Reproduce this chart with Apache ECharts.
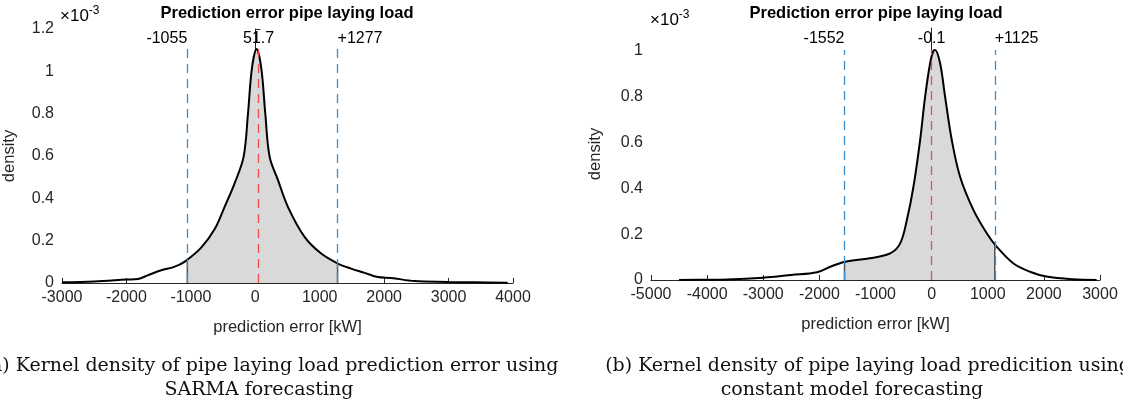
<!DOCTYPE html>
<html>
<head>
<meta charset="utf-8">
<script src="https://cdn.jsdelivr.net/npm/echarts@6/dist/echarts.min.js"></script>
<style>html,body{margin:0;padding:0;background:#fff}#c{width:1123px;height:409px}</style>
</head>
<body>
<div id="c"></div>
<script>
// ---- data (density in units of 1e-3) ----
const errA = [-3000,-2500,-2000,-1820,-1670,-1460,-1260,-1100,-840,-630,-476,-321,-181,-113,-52,20,93,155,222,351,506,765,1023,1282,1488,1700,1902,2108,2470,2987,3400,3917];
const densA = [0.003,0.007,0.016,0.019,0.036,0.060,0.076,0.100,0.167,0.255,0.360,0.471,0.597,0.802,1.015,1.105,1.015,0.802,0.597,0.487,0.360,0.218,0.139,0.092,0.068,0.048,0.028,0.024,0.009,0.005,0.003,0.001];
const errB = [-4500,-4000,-3645,-3000,-2500,-2040,-1806,-1540,-1100,-740,-560,-441,-324,-205,-116,-27,30,62,151,240,359,507,744,982,1157,1453,1750,2046,2520,2940];
const densB = [0.000,0.001,0.002,0.010,0.022,0.034,0.058,0.080,0.095,0.116,0.160,0.262,0.407,0.611,0.800,0.946,1.000,1.004,0.946,0.800,0.611,0.451,0.306,0.204,0.146,0.073,0.036,0.015,0.003,0.000];
const markA = [-1055, 51.7, 1277];
const markLabelsA = ['-1055', '51.7', '+1277'];
const markB = [-1552, -0.1, 1125];
const markLabelsB = ['-1552', '-0.1', '+1125'];
const xTicksA = [-3000,-2000,-1000,0,1000,2000,3000,4000];
const xTicksB = [-5000,-4000,-3000,-2000,-1000,0,1000,2000,3000];
const yTicksA = [0,0.2,0.4,0.6,0.8,1,1.2];
const yTicksB = [0,0.2,0.4,0.6,0.8,1];
const titleText = 'Prediction error pipe laying load';
const xName = 'prediction error [kW]';
const yName = 'density';
const capA1 = '(a) Kernel density of pipe laying load prediction error using';
const capA2 = 'SARMA forecasting';
const capB1 = '(b) Kernel density of pipe laying load predicition using';
const capB2 = 'constant model forecasting';

function interp(xs, ys, x) {
  for (let i = 0; i < xs.length - 1; i++) {
    if (x >= xs[i] && x <= xs[i+1]) {
      const t = (x - xs[i]) / (xs[i+1] - xs[i]);
      return ys[i] + t * (ys[i+1] - ys[i]);
    }
  }
  return 0;
}
function fillData(xs, ys, lo, hi) {
  const out = [[lo, interp(xs, ys, lo)]];
  xs.forEach((x, i) => { if (x > lo && x < hi) out.push([x, ys[i]]); });
  out.push([hi, interp(xs, ys, hi)]);
  return out;
}

const AX = '#262626';
const FONT = 'Liberation Sans';
const BLUE = '#3b8fd1';
const RED = '#ee4b4b';
const SMOOTH = 0.35;
const ALIGNS = ['right', 'center', 'left'];

function xAxis(gi, ticks) {
  return {
    type: 'value', gridIndex: gi, min: ticks[0], max: ticks[ticks.length-1], interval: 1000,
    name: xName, nameLocation: 'middle', nameGap: 36,
    nameTextStyle: { fontFamily: FONT, fontSize: 16.5, color: AX },
    axisLine: { show: true, onZero: false, lineStyle: { color: AX, width: 1 } },
    axisTick: { show: true, inside: true, length: 5, lineStyle: { color: AX }, customValues: ticks },
    axisLabel: { fontFamily: FONT, fontSize: 16, color: AX, margin: 7, customValues: ticks,
      formatter: v => String(v) },
    splitLine: { show: false }
  };
}
function yAxis(gi, ticks, max, gap) {
  return {
    type: 'value', gridIndex: gi, min: 0, max: max,
    name: yName, nameLocation: 'middle', nameGap: gap,
    nameTextStyle: { fontFamily: FONT, fontSize: 16.5, color: AX },
    axisLine: { show: true, lineStyle: { color: AX, width: 1 } },
    axisTick: { show: true, inside: true, length: 5, lineStyle: { color: AX }, customValues: ticks },
    axisLabel: { fontFamily: FONT, fontSize: 16, color: AX, margin: 8, customValues: ticks,
      formatter: v => String(+v.toFixed(1)) },
    splitLine: { show: false }
  };
}
function seriesFor(gi, xs, ys, lo, hi, marks, labels) {
  const top = Math.max(...ys);
  const edge = (x) => ({
    type: 'line', xAxisIndex: gi, yAxisIndex: gi, symbol: 'none', silent: true, z: 3,
    lineStyle: { color: '#555', width: 1.5 },
    data: [[x, 0], [x, interp(xs, ys, x)]]
  });
  return [
    {
      type: 'line', xAxisIndex: gi, yAxisIndex: gi, symbol: 'none', silent: true, z: 2,
      smooth: SMOOTH,
      lineStyle: { width: 0 }, areaStyle: { color: '#d9d9d9', opacity: 1 },
      data: fillData(xs, ys, lo, hi)
    },
    edge(lo), edge(hi),
    {
      type: 'line', xAxisIndex: gi, yAxisIndex: gi, symbol: 'none', silent: true, z: 4,
      smooth: SMOOTH,
      lineStyle: { color: '#000', width: 2 },
      data: xs.map((x, i) => [x, ys[i]])
    },
    {
      type: 'line', xAxisIndex: gi, yAxisIndex: gi, symbol: 'none', silent: true, z: 5,
      data: [],
      markLine: {
        symbol: ['none', 'none'], silent: true, animation: false,
        data: marks.map((m, i) => [
          { coord: [m, 0], lineStyle: { color: i === 1 ? RED : BLUE, type: [9, 6], width: 1.3 },
            label: { show: true, position: 'end', formatter: labels[i], align: ALIGNS[i],
              fontFamily: FONT, fontSize: 16, color: '#000', distance: 3 } },
          { coord: [m, top] }
        ])
      }
    }
  ];
}

const chart = echarts.init(document.getElementById('c'), null, { renderer: 'canvas' });
const capFont = '19px "DejaVu Serif"';
const sci = { a: { fontFamily: FONT, fontSize: 17, color: AX, verticalAlign: 'bottom', lineHeight: 20 },
              b: { fontFamily: FONT, fontSize: 12, color: AX, verticalAlign: 'top', lineHeight: 20 } };
const titleFont = 'bold 16.5px "Liberation Sans"';
chart.setOption({
  animation: false,
  backgroundColor: '#fff',
  grid: [
    { left: 61, top: 29, width: 452, height: 254 },
    { left: 651, top: 28, width: 449, height: 252 }
  ],
  xAxis: [xAxis(0, xTicksA), xAxis(1, xTicksB)],
  yAxis: [yAxis(0, yTicksA, 1.2, 44), yAxis(1, yTicksB, 1.1, 47)],
  series: [
    ...seriesFor(0, errA, densA, markA[0], markA[2], markA, markLabelsA),
    ...seriesFor(1, errB, densB, markB[0], markB[2], markB, markLabelsB)
  ],
  graphic: [
    { type: 'text', x: 287, y: 13, style: { text: titleText, font: titleFont, fill: '#000', align: 'center', verticalAlign: 'middle' } },
    { type: 'text', x: 876, y: 13, style: { text: titleText, font: titleFont, fill: '#000', align: 'center', verticalAlign: 'middle' } },
    { type: 'text', x: 60, y: 5, style: { text: '{a|×10}{b|-3}', rich: sci } },
    { type: 'text', x: 650, y: 9, style: { text: '{a|×10}{b|-3}', rich: sci } },
    { type: 'text', x: 271, y: 366, style: { text: capA1, font: capFont, fill: '#111', align: 'center', verticalAlign: 'middle' } },
    { type: 'text', x: 259, y: 390, style: { text: capA2, font: capFont, fill: '#111', align: 'center', verticalAlign: 'middle' } },
    { type: 'text', x: 868, y: 366, style: { text: capB1, font: capFont, fill: '#111', align: 'center', verticalAlign: 'middle' } },
    { type: 'text', x: 852, y: 390, style: { text: capB2, font: capFont, fill: '#111', align: 'center', verticalAlign: 'middle' } }
  ]
});
</script>
</body>
</html>
